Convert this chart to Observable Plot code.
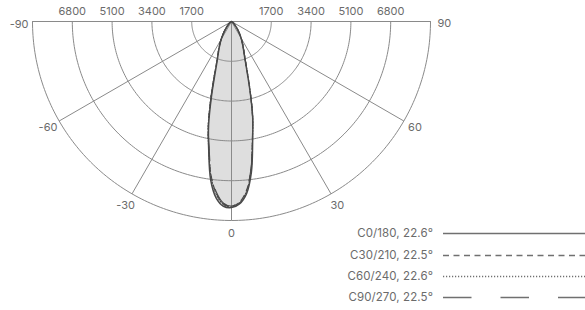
<!DOCTYPE html>
<html><head><meta charset="utf-8">
<script src="https://cdn.jsdelivr.net/npm/d3@7"></script>
<script src="https://cdn.jsdelivr.net/npm/@observablehq/plot@0.6"></script>
<style>
body{margin:0;background:#fff;font-family:Inter,"Noto Sans",sans-serif;}
#wrap{position:relative;width:585px;height:310px;overflow:hidden;}
.row{position:absolute;left:0;width:585px;height:14px;}
.row span{position:absolute;right:152px;top:0;font-size:11.5px;line-height:14px;color:#6b6b6b;white-space:nowrap;letter-spacing:0.1px;}
.row svg{position:absolute;left:443px;top:0;}
</style></head><body><div id="wrap"></div>
<script>
// Vertical angles (gamma, degrees)
const gammas = [0, 2.5, 5, 7.5, 10, 12.5, 15, 17.5, 20, 25, 30, 35, 40, 45, 50, 60, 70];
// Luminous intensity (cd) per C-plane
const c0   = [7950, 7800, 7380, 6500, 5200, 4180, 3040, 2170, 1660, 1150, 820, 540, 330, 200, 120, 40, 0];
const c180 = [7950, 7900, 7560, 6820, 5600, 4520, 3300, 2350, 1790, 1250, 880, 570, 350, 210, 130, 40, 0];
const c30  = [7900, 7720, 7260, 6380, 5120, 4150, 3060, 2210, 1700, 1180, 840, 550, 340, 200, 120, 40, 0];
const c210 = [7900, 7800, 7380, 6650, 5560, 4590, 3420, 2460, 1850, 1280, 900, 580, 350, 210, 130, 40, 0];
const c60  = [7920, 7750, 7300, 6420, 5150, 4180, 3090, 2230, 1700, 1170, 830, 545, 335, 200, 120, 40, 0];
const c240 = [7920, 7830, 7420, 6680, 5580, 4610, 3440, 2480, 1860, 1290, 905, 585, 355, 210, 130, 40, 0];
const c90  = [7880, 7700, 7240, 6360, 5120, 4160, 3070, 2210, 1690, 1160, 830, 540, 330, 200, 120, 40, 0];
const c270 = [7880, 7770, 7330, 6600, 5500, 4560, 3400, 2440, 1830, 1270, 895, 580, 350, 210, 130, 40, 0];

const seriesNames = ["C0/180", "C30/210", "C60/240", "C90/270"];
const beamAngles = ["22.6°", "22.5°", "22.6°", "22.5°"];
const dashes = [null, "6,4.5", "1.2,1.8", "28.5,29"];

const ringValues = [1700, 3400, 5100, 6800, 8500];
const tickLabels = [1700, 3400, 5100, 6800];
const spokeAngles = [-90, -60, -30, 0, 30, 60, 90];
const angleLabels = [-90, -60, -30, 0, 30, 60, 90];
const maxI = 8500;

const rad = d => d * Math.PI / 180;
const pairs = [[c0, c180], [c30, c210], [c60, c240], [c90, c270]];

// Build closed loops: origin -> left side (outer to 0) -> right side (0 to outer) -> origin
const curves = pairs.map(([right, left], k) => {
  const pts = [{x: 0, y: 0, s: k}];
  for (let i = gammas.length - 1; i >= 0; i--) {
    if (left[i] > 0) pts.push({x: -left[i] * Math.sin(rad(gammas[i])), y: left[i] * Math.cos(rad(gammas[i])), s: k});
  }
  for (let i = 1; i < gammas.length; i++) {
    if (right[i] > 0) pts.push({x: right[i] * Math.sin(rad(gammas[i])), y: right[i] * Math.cos(rad(gammas[i])), s: k});
  }
  pts.push({x: 0, y: 0, s: k});
  return pts;
});

const arcs = ringValues.map(v => d3.range(-90, 90.01, 1).map(a => ({x: v * Math.sin(rad(a)), y: v * Math.cos(rad(a)), v})));
const spokes = spokeAngles.map(a => ({x2: maxI * Math.sin(rad(a)), y2: maxI * Math.cos(rad(a))}));
const topTicks = tickLabels.flatMap(v => [{x: -v, t: String(v)}, {x: v, t: String(v)}]);
const midLabels = angleLabels.filter(a => Math.abs(a) < 90).map(a => ({x: 9050 * Math.sin(rad(a)), y: 9050 * Math.cos(rad(a)), t: String(a)}));
const sideLabels = angleLabels.filter(a => Math.abs(a) === 90).map(a => ({x: Math.sign(a) * maxI, t: String(a), a}));

const gridColor = "#8a8a8a";
const textColor = "#6b6b6b";
const font = "Inter, 'Noto Sans', sans-serif";

const marks = [];
curves.forEach(pts => marks.push(Plot.line(pts, {x: "x", y: "y", curve: "catmull-rom", fill: "#dedede", stroke: "none"})));
arcs.forEach(pts => marks.push(Plot.line(pts, {x: "x", y: "y", stroke: gridColor, strokeWidth: 1})));
marks.push(Plot.link(spokes, {x1: () => 0, y1: () => 0, x2: "x2", y2: "y2", stroke: gridColor, strokeWidth: 1}));
curves.forEach((pts, k) => marks.push(Plot.line(pts, {x: "x", y: "y", curve: "catmull-rom", stroke: "#4a4a4a", strokeWidth: k === 0 ? 1.5 : 1.1, strokeDasharray: dashes[k] || undefined})));
marks.push(Plot.text(topTicks, {x: "x", y: () => 0, text: "t", dy: -10, fill: textColor, fontSize: 11}));
marks.push(Plot.text(midLabels, {x: "x", y: "y", text: "t", fill: textColor, fontSize: 11}));
marks.push(Plot.text(sideLabels, {x: "x", y: () => 0, text: "t", fill: textColor, fontSize: 11,
  textAnchor: "end", filter: d => d.a < 0, dx: -4, dy: 3}));
marks.push(Plot.text(sideLabels, {x: "x", y: () => 0, text: "t", fill: textColor, fontSize: 11,
  textAnchor: "start", filter: d => d.a > 0, dx: 7, dy: 2}));

const chart = Plot.plot({
  width: 585, height: 310, margin: 0,
  style: {fontFamily: font, background: "#fff"},
  x: {domain: [-maxI, maxI], range: [32, 430], axis: null},
  y: {domain: [0, maxI], range: [21, 220], axis: null},
  marks
});
const wrap = document.getElementById("wrap");
wrap.appendChild(chart);

// Legend
const rowTops = [226, 248, 269, 290];
seriesNames.forEach((n, k) => {
  const row = document.createElement("div");
  row.className = "row";
  row.style.top = rowTops[k] + "px";
  const span = document.createElement("span");
  span.textContent = `${n}, ${beamAngles[k]}`;
  row.appendChild(span);
  const svg = d3.create("svg").attr("width", 142).attr("height", 14);
  svg.append("line").attr("x1", 0).attr("x2", 142).attr("y1", 7.5).attr("y2", 7.5)
    .attr("stroke", "#707070").attr("stroke-width", 1.3)
    .attr("stroke-dasharray", dashes[k] || null);
  row.appendChild(svg.node());
  wrap.appendChild(row);
});
</script></body></html>
